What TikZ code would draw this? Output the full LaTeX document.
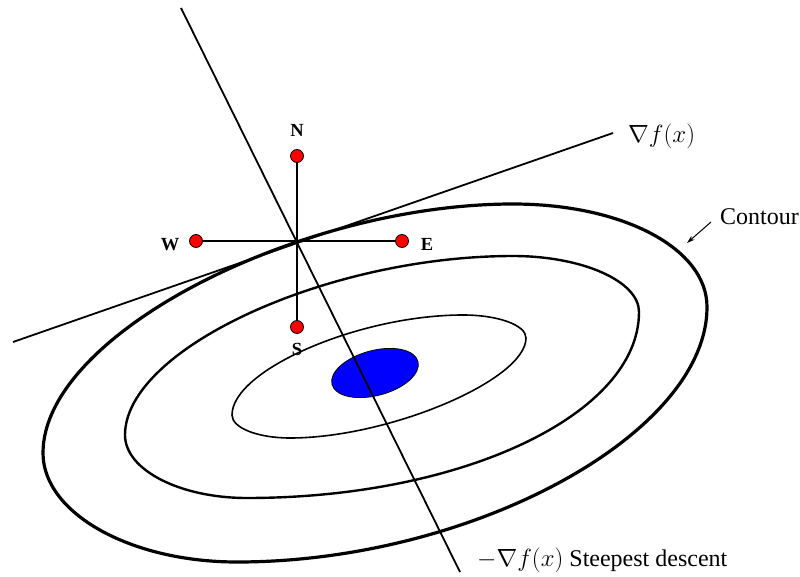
\documentclass[tikz,border=0pt]{standalone}
\usepackage{fontspec}
\setmainfont{Liberation Serif}
\usetikzlibrary{shapes.geometric,arrows.meta}
\tikzset{
  dot/.style={circle,draw=black,fill=red,line width=0.8pt,minimum size=13pt,inner sep=0pt},
  compasslbl/.style={font=\fontsize{18.5}{22}\selectfont\bfseries,inner sep=0pt,anchor=base},
  biglbl/.style={font=\fontsize{24}{28}\selectfont,inner sep=0pt,anchor=base west},
  straight/.style={line width=1.8pt},
  outerc/.style={line width=3.2pt},
  midc/.style={line width=2.4pt},
  innerc/.style={line width=1.6pt},
}
\begin{document}
\begin{tikzpicture}[x=1pt,y=-1pt]
\useasboundingbox (0,0) rectangle (800,577);
% contours
\draw[outerc] (513,204) .. controls (622,204) and (707,248) .. (707,307)
  .. controls (707,434) and (472,562) .. (237,562)
  .. controls (130,562) and (43,513) .. (43,453)
  .. controls (43,334) and (300,204) .. (513,204) -- cycle;
\draw[midc] (513,256) .. controls (582,256) and (639,281) .. (639,312)
  .. controls (639,414) and (463,498) .. (247,498)
  .. controls (180,498) and (125,470) .. (125,435)
  .. controls (125,349) and (327,256) .. (513,256) -- cycle;
\draw[innerc] (463,315) .. controls (498,315) and (526,325) .. (526,338)
  .. controls (526,380) and (389,438) .. (290,438)
  .. controls (258,438) and (232,428) .. (232,415)
  .. controls (232,370) and (359,315) .. (463,315) -- cycle;
% minimum
\node[ellipse,draw=black,fill=blue,line width=0.8pt,minimum width=89pt,minimum height=45pt,inner sep=0pt,rotate=15] (min) at (375,373) {};
% lines
\coordinate (c) at (297,241);
\coordinate (dtop) at (181,8);
\coordinate (dbot) at (460,572);
\coordinate (tl) at (13,342);
\coordinate (tr) at (613,133);
\draw[straight] (dtop) -- (dbot);
\draw[straight] (tl) -- (tr);
% compass
\node[dot] (N) at (297,156) {};
\node[dot] (S) at (297,327) {};
\node[dot] (W) at (196,241) {};
\node[dot] (E) at (402,241) {};
\draw[straight] (N) -- (S);
\draw[straight] (W) -- (E);
\node[compasslbl] (Nl) at (297,137) {N};
\node[compasslbl] (Sl) at (297,355) {S};
\node[compasslbl] (Wl) at (170,251) {W};
\node[compasslbl] (El) at (427,251) {E};
% labels
\node[biglbl] (grad) at (628,143) {$\nabla f(x)$};
\node[biglbl] (cont) at (720,225) {Contour};
\node[biglbl] (desc) at (477,566) {$-\nabla f(x)$ Steepest descent};
\coordinate (as) at (711,222);
\coordinate (ae) at (687,243);
\draw[line width=1pt,-{Stealth[length=8pt,width=5pt]}] (as) -- (ae);
\end{tikzpicture}
\end{document}
